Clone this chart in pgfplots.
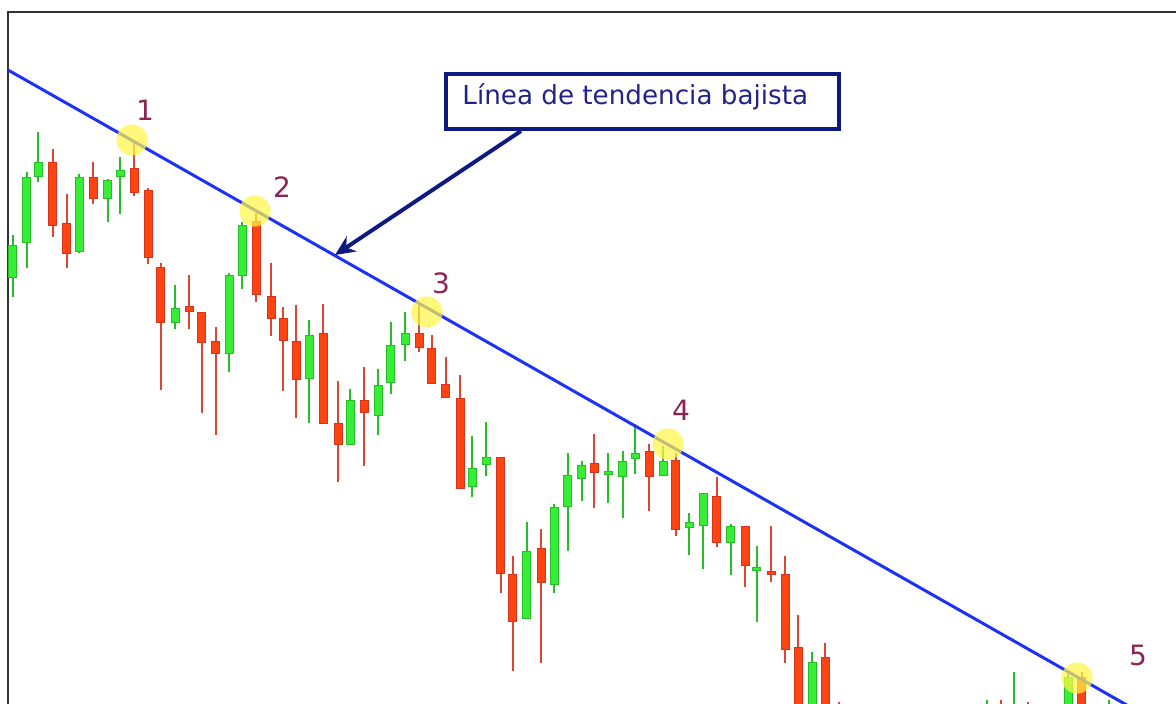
\documentclass[border=0pt]{standalone}
\usepackage{pgfplots}
\usepackage{pgfplotstable}
\pgfplotsset{compat=1.18}
\usetikzlibrary{arrows.meta}
\usepackage{fontspec}
\setmainfont{DejaVu Sans}
\definecolor{gfill}{RGB}{55,238,55}
\definecolor{gline}{RGB}{40,190,40}
\definecolor{rfill}{RGB}{255,68,18}
\definecolor{rline}{RGB}{210,55,30}
\definecolor{rwick}{RGB}{220,70,50}
\definecolor{trend}{RGB}{30,50,245}
\definecolor{navy}{RGB}{15,25,130}
\definecolor{navytxt}{RGB}{35,35,135}
\definecolor{numcol}{RGB}{140,35,85}
\definecolor{hl}{RGB}{255,245,70}

% x = pixel column, t/b = body top/bottom, h/l = wick top/bottom (pixel rows)
\pgfplotstableread{
x t b h l
12.7 245 278 235 297
26.7 177 243 172 268
38.3 162 177 132 182
79.3 177 252 174 253
107.7 180 199 179 222
120 170 177 157 214
175 308 323 285 329
229.3 275 354 273 372
242.3 225 276 222 289
309.3 335 379 320 423
350 400 445 389 445
378.3 385 416 369 435
390.7 345 383 322 394
405 333 345 312 361
472.3 468 487 436 497
486.3 457 465 422 476
526.7 551 619 522 619
554 507 585 504 593
567.7 475 507 453 551
581.7 465 479 461 501
608.3 471 475 453 503
622.7 461 477 451 518
635 453 459 424 474
663.3 461 476 446 476
689.3 522 528 513 555
703.3 493 526 493 569
730.7 526 543 524 575
756.7 567 571 546 622
812 662 730 652 740
987 710 740 700 750
1014 710 740 672 750
1068 677 740 671 750
1108.5 708 740 700 750
}\greens

\pgfplotstableread{
x t b h l
52.7 162 226 149 237
66.7 223 254 194 268
93.3 177 199 162 204
134 168 193 143 196
148.3 190 258 188 264
160.7 267 323 263 390
189.3 306 312 275 329
201.7 312 343 312 413
215.7 341 354 327 435
256 221 295 213 302
271 296 319 263 336
283 318 341 307 391
296.3 341 380 305 418
323.3 333 424 304 424
338.3 423 445 381 482
364 400 413 367 466
419.3 333 348 303 352
431.7 348 384 335 384
445.7 384 398 357 398
460 398 489 375 489
500.7 457 574 457 593
512.7 574 622 556 671
541 548 583 529 663
594.3 463 473 434 508
649.3 451 477 444 511
675.7 460 530 453 536
716.7 496 543 477 547
745 526 566 526 587
771 571 575 526 582
785 574 650 556 663
798.3 647 720 615 730
825 657 720 643 730
838.5 710 740 702 750
1000.5 710 740 700 750
1027.5 712 740 702 750
1081.5 677 740 672 750
}\reds

\pgfplotsset{
  wick/.style={draw=none, mark=none, forget plot,
    error bars/.cd, y dir=both, y explicit, error mark=none,
    error bar style={line width=1pt, draw=#1}},
  body/.style 2 args={draw=none, mark=none, forget plot,
    error bars/.cd, y dir=both, y explicit, error mark=none,
    error bar style={line width=#2, draw=#1}},
}

\begin{document}
\begin{tikzpicture}
\begin{axis}[name=ax, scale only axis, width=588pt, height=352pt,
  xmin=0, xmax=1176, ymin=0, ymax=704, y dir=reverse, hide axis, clip=true]

% frame
\addplot[draw={rgb,255:red,50;green,50;blue,50}, line width=1.1pt, forget plot] coordinates {(8,720) (8,12) (1180,12)};

% wicks
\addplot[wick=gline] table[x=x, y expr={(\thisrow{h}+\thisrow{l})/2}, y error expr={(\thisrow{l}-\thisrow{h})/2}] \greens;
\addplot[wick=rwick] table[x=x, y expr={(\thisrow{h}+\thisrow{l})/2}, y error expr={(\thisrow{l}-\thisrow{h})/2}] \reds;
% bodies outline
\addplot[body={gline}{4.5pt}] table[x=x, y expr={(\thisrow{t}+\thisrow{b})/2}, y error expr={(\thisrow{b}-\thisrow{t})/2}] \greens;
\addplot[body={rline}{4.5pt}] table[x=x, y expr={(\thisrow{t}+\thisrow{b})/2}, y error expr={(\thisrow{b}-\thisrow{t})/2}] \reds;
% bodies fill
\addplot[body={gfill}{3.5pt}] table[x=x, y expr={(\thisrow{t}+\thisrow{b})/2}, y error expr={(\thisrow{b}-\thisrow{t})/2-1}] \greens;
\addplot[body={rfill}{3.5pt}] table[x=x, y expr={(\thisrow{t}+\thisrow{b})/2}, y error expr={(\thisrow{b}-\thisrow{t})/2-1}] \reds;

% trend line
\addplot[trend, line width=1.5pt, forget plot] coordinates {(8,70) (1176,733)};

% highlighted touches
\addplot[only marks, color=hl, mark=*, mark size=7.8pt, mark options={draw=none, draw opacity=0, fill=hl, fill opacity=0.72}, forget plot]
  coordinates {(132,140) (255,211) (427,312) (668,444) (1077,678)};

% numbers
\node[numcol, font=\fontsize{14}{15}\selectfont] at (axis cs:145,110) {1};
\node[numcol, font=\fontsize{14}{15}\selectfont] at (axis cs:282,187) {2};
\node[numcol, font=\fontsize{14}{15}\selectfont] at (axis cs:441,283) {3};
\node[numcol, font=\fontsize{14}{15}\selectfont] at (axis cs:681,410) {4};
\node[numcol, font=\fontsize{14}{15}\selectfont] at (axis cs:1138,655) {5};

% label box and arrow
\draw[navy, line width=2pt, fill=white] (axis cs:446,74) rectangle (axis cs:839,129);
\node[navytxt, anchor=base west, inner sep=0pt, font=\fontsize{13.1}{15}\selectfont] at (axis cs:462,105) {Línea de tendencia bajista};
\draw[navy, line width=2pt, -{Stealth[length=10pt, width=9pt]}] (axis cs:521,131) -- (axis cs:335,255);
\end{axis}
\pgfresetboundingbox
\useasboundingbox (ax.south west) rectangle (ax.north east);
\end{tikzpicture}
\end{document}
